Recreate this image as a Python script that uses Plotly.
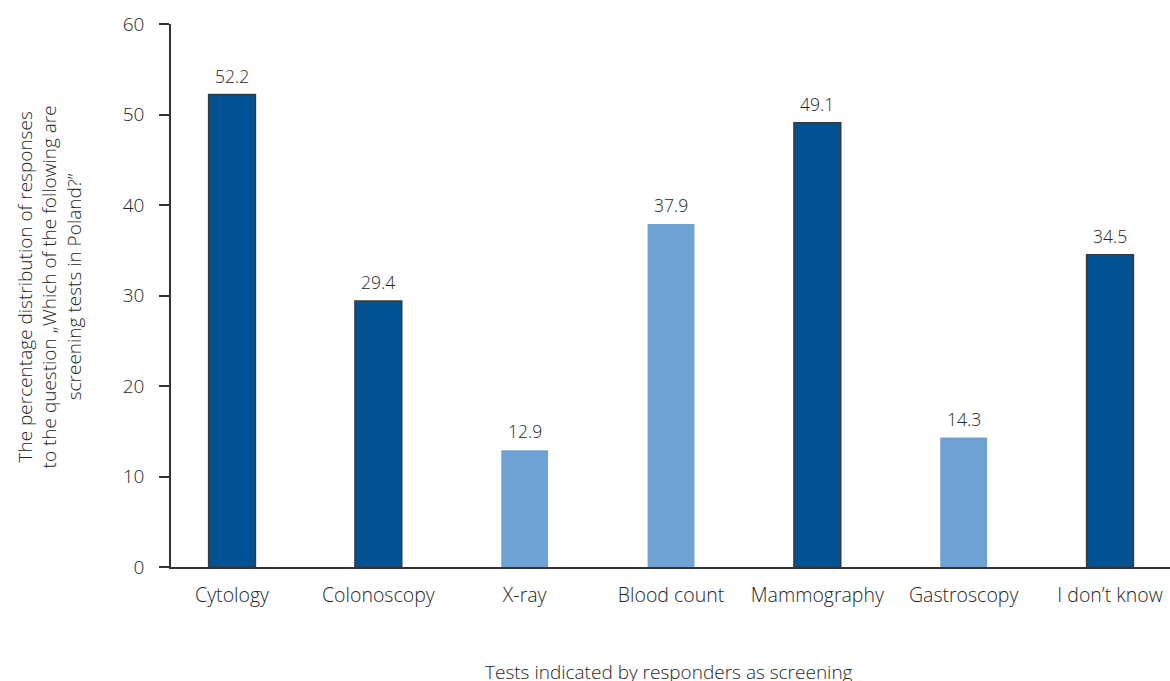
import plotly.graph_objects as go

# Survey results: share of respondents naming each test as a screening test
categories = ["Cytology", "Colonoscopy", "X-ray", "Blood count",
              "Mammography", "Gastroscopy", "I don\u2019t know"]
percentages = [52.2, 29.4, 12.9, 37.9, 49.1, 14.3, 34.5]
# True = actual screening test (dark bars), False = not a screening test (light bars)
is_screening = [True, True, False, False, True, False, True]
y_ticks = [0, 10, 20, 30, 40, 50, 60]

DARK = "#005293"
LIGHT = "#6EA1D4"
TEXT = "#262626"
FONT = "Open Sans"
WEIGHT = 300

colors = [DARK if s else LIGHT for s in is_screening]
line_colors = ["#3a3a3a" if s else LIGHT for s in is_screening]
line_widths = [1.5 if s else 0 for s in is_screening]

fig = go.Figure()
fig.add_trace(go.Bar(
    x=categories,
    y=percentages,
    width=0.32,
    marker=dict(color=colors, line=dict(color=line_colors, width=line_widths)),
    hoverinfo="skip",
))

# Value labels above each bar
for cat, val in zip(categories, percentages):
    fig.add_annotation(
        x=cat, y=val, text=f"{val:.1f}", showarrow=False,
        yanchor="bottom", yshift=5,
        font=dict(family=FONT, size=17.5, color=TEXT, weight=WEIGHT),
    )

# Y-axis title (three centred lines)
fig.add_annotation(
    xref="paper", yref="paper", x=-0.122, y=0.515,
    text="The percentage distribution of responses<br>"
         "to the question \u201eWhich of the following are<br>"
         "screening tests in Poland?\u201d",
    textangle=-90, showarrow=False, align="center",
    xanchor="center", yanchor="middle",
    font=dict(family=FONT, size=19, color=TEXT, weight=WEIGHT),
)

# X-axis title
fig.add_annotation(
    xref="paper", yref="paper", x=0.498, y=-0.193,
    text="Tests indicated by responders as screening",
    showarrow=False, xanchor="center", yanchor="middle",
    font=dict(family=FONT, size=19, color=TEXT, weight=WEIGHT),
)

fig.update_layout(
    width=1170, height=681,
    margin=dict(l=171, r=0, t=24, b=114),
    paper_bgcolor="white",
    plot_bgcolor="white",
    showlegend=False,
    font=dict(family=FONT, color=TEXT, weight=WEIGHT),
)
fig.update_xaxes(
    type="category",
    range=[-0.417, 6.41],
    showline=True, linecolor="#333333", linewidth=1.5,
    ticks="", showgrid=False,
    tickfont=dict(family=FONT, size=19.5, color=TEXT, weight=WEIGHT),
    ticklabelstandoff=10,
)
fig.update_yaxes(
    range=[0, 60],
    tickvals=y_ticks,
    showline=True, linecolor="#333333", linewidth=1.5,
    ticks="outside", ticklen=10, tickwidth=1.5, tickcolor="#333333",
    showgrid=False, zeroline=False,
    ticklabelstandoff=11,
    tickfont=dict(family=FONT, size=19, color=TEXT, weight=WEIGHT),
)

fig.write_html("out.html")
